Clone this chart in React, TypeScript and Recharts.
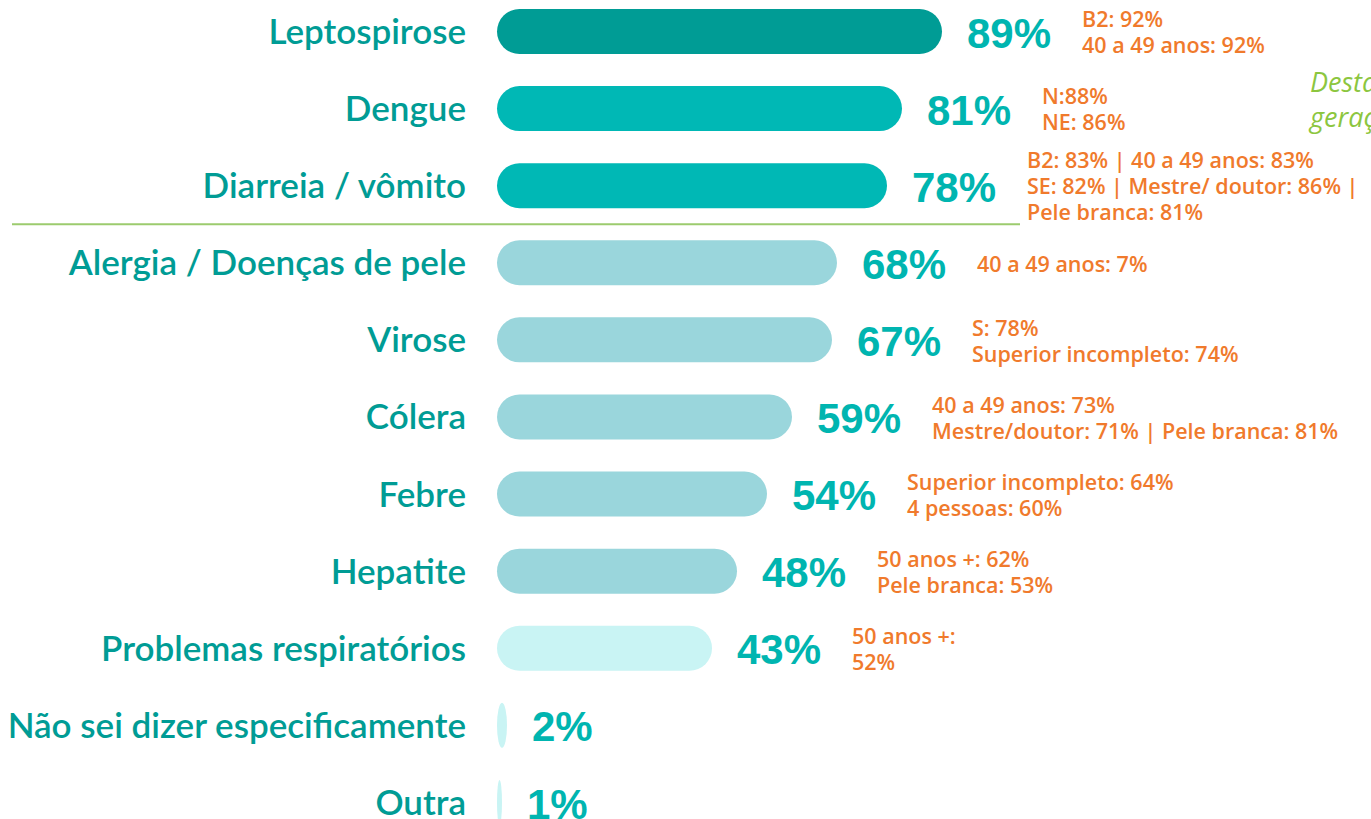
import { BarChart, Bar, XAxis, YAxis, LabelList, ReferenceLine, Cell } from 'recharts';

const categories = [
  'Leptospirose',
  'Dengue',
  'Diarreia / vômito',
  'Alergia / Doenças de pele',
  'Virose',
  'Cólera',
  'Febre',
  'Hepatite',
  'Problemas respiratórios',
  'Não sei dizer especificamente',
  'Outra',
];

const values = [89, 81, 78, 68, 67, 59, 54, 48, 43, 2, 1];

const notes: string[][] = [
  ['B2: 92%', '40 a 49 anos: 92%'],
  ['N:88%', 'NE: 86%'],
  ['B2: 83% | 40 a 49 anos: 83%', 'SE: 82% | Mestre/ doutor: 86% |', 'Pele branca: 81%'],
  ['40 a 49 anos: 7%'],
  ['S: 78%', 'Superior incompleto: 74%'],
  ['40 a 49 anos: 73%', 'Mestre/doutor: 71% | Pele branca: 81%'],
  ['Superior incompleto: 64%', '4 pessoas: 60%'],
  ['50 anos +: 62%', 'Pele branca: 53%'],
  ['50 anos +:', '52%'],
  [],
  [],
];

// colour group of each row
const groups = [0, 1, 1, 2, 2, 2, 2, 2, 3, 3, 3];
const groupColors = ['#009c95', '#00b8b5', '#9ad6dc', '#c9f4f4'];

const rows = categories.map((name, i) => ({ name, value: values[i], note: notes[i] }));

const TEAL = '#00b5b0';
const ORANGE = '#f07a2c';

function Pill(props: any) {
  const { x, y, width, height, fill } = props;
  if (width <= 0) return null;
  return <rect x={x} y={y} width={width} height={height} rx={height / 2} ry={height / 2} fill={fill} />;
}

function ValueLabel(props: any) {
  const { x, y, width, height, value, index } = props;
  const cy = y + height / 2 + 1;
  const lines: string[] = rows[index].note;
  const noteX = x + width + 140;
  const lh = 26;
  const startY = cy - ((lines.length - 1) * lh) / 2;
  return (
    <g>
      <text
        x={x + width + 25}
        y={cy}
        dy="0.36em"
        fill={TEAL}
        fontFamily="'Liberation Sans', Arial, sans-serif"
        fontWeight="bold"
        fontSize={42}
      >
        {value}%
      </text>
      {lines.map((l, i) => (
        <text
          key={i}
          x={noteX}
          y={startY + i * lh}
          dy="0.36em"
          fill={ORANGE}
          fontFamily="'Open Sans', sans-serif"
          fontWeight={600}
          fontSize={21.5}
        >
          {l}
        </text>
      ))}
    </g>
  );
}

export default function App() {
  return (
    <div style={{ position: 'absolute', left: 0, top: 0, width: 1371, height: 819, overflow: 'hidden', background: '#fff' }}>
      <div style={{ position: 'relative', top: -7 }}>
        <BarChart
          width={1371}
          height={848}
          data={rows}
          layout="vertical"
          margin={{ top: 0, right: 374, left: 0, bottom: 0 }}
          barCategoryGap={0}
        >
          <XAxis type="number" domain={[0, 100]} hide />
          <YAxis
            type="category"
            dataKey="name"
            width={497}
            axisLine={false}
            tickLine={false}
            tickSize={0}
            tickMargin={31}
            interval={0}
            tick={{ fill: '#009c95', fontSize: 35, fontFamily: 'Lato, sans-serif', fontWeight: 600 }}
          />
          <ReferenceLine
            position="start"
            segment={[
              { x: -97, y: categories[3] },
              { x: 104.6, y: categories[3] },
            ]}
            ifOverflow="visible"
            stroke="#9ccb6e"
            strokeWidth={2}
          />
          <Bar dataKey="value" barSize={45} shape={<Pill />} isAnimationActive={false}>
            {rows.map((_, i) => (
              <Cell key={i} fill={groupColors[groups[i]]} />
            ))}
            <LabelList dataKey="value" content={<ValueLabel />} />
          </Bar>
        </BarChart>
      </div>
      <div
        style={{
          position: 'absolute',
          left: 1310,
          top: 64,
          color: '#8cc63f',
          fontFamily: "'Open Sans', sans-serif",
          fontStyle: 'italic',
          fontWeight: 400,
          fontSize: 27,
          lineHeight: '35px',
          whiteSpace: 'nowrap',
        }}
      >
        Destaques
        <br />
        geração
      </div>
    </div>
  );
}
